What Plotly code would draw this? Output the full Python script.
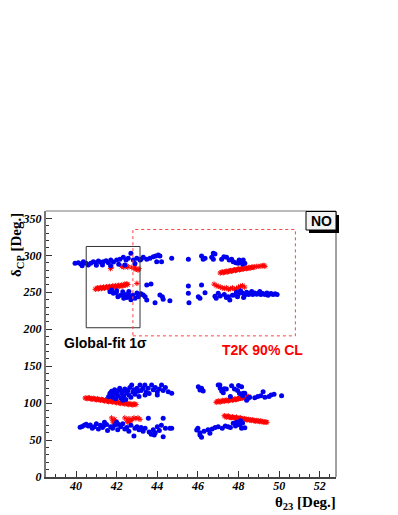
import plotly.graph_objects as go

# --- data: (theta23 [deg], deltaCP [deg]) ---

# blue dots, grouped by cluster
blue_upper_left = [
    (39.95, 289.2), (40.11, 290.0), (40.23, 288.2), (40.36, 291.3), (40.49, 289.2),
    (40.72, 289.2), (40.85, 291.3), (40.98, 290.0), (41.10, 292.2), (41.21, 290.5),
    (41.34, 291.3), (41.48, 292.7), (41.59, 290.0), (41.71, 293.6), (41.84, 290.9),
    (42.00, 293.6), (42.16, 294.6), (42.33, 297.3), (42.46, 293.6), (42.57, 296.0),
    (42.70, 302.7), (42.82, 293.6), (42.99, 296.0), (43.15, 293.6), (40.30, 286.0),
    (40.60, 287.0), (41.00, 286.5), (41.30, 287.0), (41.70, 286.0), (42.10, 288.0),
    (42.40, 287.0), (42.90, 289.0), (43.20, 294.6), (43.31, 297.3), (43.48, 294.6),
    (43.64, 296.0), (43.80, 298.1), (43.92, 299.0), (44.05, 300.4), (44.13, 299.0),
    (43.97, 291.3), (44.21, 291.3), (44.71, 296.0), (45.53, 294.6),
]
blue_upper_right = [
    (46.18, 299.0), (46.26, 294.6), (46.35, 296.0), (46.68, 297.3), (46.84, 301.8),
    (46.76, 294.6), (46.76, 302.7), (47.17, 294.6), (47.28, 298.1), (47.41, 297.3),
    (47.54, 293.6), (47.66, 294.6), (47.74, 291.3), (47.87, 290.0), (47.98, 289.2),
    (48.10, 291.3), (48.20, 288.2), (48.31, 289.2), (48.23, 293.6), (48.03, 293.6),
]
blue_mid_left = [
    (41.67, 250.8), (41.84, 248.6), (41.98, 249.5), (42.06, 244.0), (42.30, 250.8),
    (42.40, 247.0), (42.50, 243.0), (42.57, 248.0), (42.66, 244.0), (42.80, 246.0),
    (42.90, 241.8), (43.06, 244.0), (43.10, 247.0), (41.75, 253.0), (42.00, 252.0),
    (42.20, 246.0), (42.35, 242.0), (42.70, 240.0), (42.60, 251.0), (43.00, 249.0),
    (43.48, 259.8), (43.69, 261.2), (43.31, 246.3), (43.20, 248.0), (43.40, 244.0),
    (43.48, 239.5), (43.89, 235.9), (44.13, 246.3), (44.25, 244.0), (44.29, 240.5),
    (44.62, 238.6), (45.53, 258.4), (45.53, 248.6), (45.56, 235.9),
]
blue_mid_right = [
    (46.02, 244.0), (46.10, 241.8), (46.18, 259.8), (46.35, 249.4), (46.84, 244.6),
    (47.00, 248.6), (46.90, 242.0), (47.10, 245.0), (47.30, 247.0), (47.40, 243.0),
    (47.57, 239.5), (47.50, 244.0), (47.70, 246.0), (47.82, 246.3), (47.90, 250.0),
    (48.00, 248.0), (48.10, 252.0), (48.20, 249.0), (48.30, 246.0), (48.40, 250.0),
    (48.50, 247.0), (48.60, 249.0), (48.70, 247.0), (48.80, 249.0), (48.90, 247.5),
    (49.00, 249.0), (49.10, 247.0), (49.20, 248.5), (49.30, 247.0), (49.40, 249.0),
    (49.50, 247.5), (49.60, 248.5), (49.70, 247.0), (49.80, 248.0), (49.90, 247.0),
    (48.65, 251.0), (49.05, 251.0), (49.45, 246.0), (48.25, 243.0), (47.95, 244.0),
]
blue_low_upper = [
    (41.67, 111.0), (41.67, 113.3), (41.75, 116.0), (41.80, 108.0), (41.85, 112.0),
    (41.90, 118.0), (41.95, 106.0), (42.00, 114.0), (42.05, 110.0), (42.10, 117.0),
    (42.15, 120.0), (42.20, 107.0), (42.25, 113.0), (42.30, 116.0), (42.35, 110.0),
    (42.40, 119.0), (42.45, 105.0), (42.50, 114.0), (42.55, 117.0), (42.60, 111.0),
    (42.65, 121.0), (42.74, 124.5), (42.70, 108.0), (42.80, 115.0), (42.85, 118.0),
    (42.90, 112.0), (43.00, 120.0), (43.05, 116.0), (43.15, 124.5), (43.10, 109.0),
    (43.20, 117.0), (43.30, 120.0), (43.39, 124.5), (43.45, 115.0), (43.55, 120.0),
    (43.60, 113.0), (43.72, 124.5), (43.80, 118.0), (43.90, 121.0), (44.00, 115.0),
    (44.10, 119.0), (44.21, 124.5), (44.29, 117.0), (44.40, 121.0), (44.54, 115.4),
    (44.71, 113.3), (44.00, 111.0), (43.40, 111.0), (42.30, 104.0), (41.60, 108.5),
    (46.02, 122.2), (46.18, 120.0), (46.10, 117.7), (46.26, 116.4), (47.00, 124.5),
    (47.08, 124.5), (47.10, 120.0), (47.17, 116.4), (47.25, 114.0), (47.30, 119.5),
    (47.40, 119.0), (47.66, 123.5), (47.80, 119.0), (47.95, 117.0), (48.00, 124.0),
    (48.15, 122.2), (48.23, 113.3), (48.31, 113.3), (48.20, 110.0), (48.48, 106.5),
    (48.40, 104.0), (48.55, 108.0), (48.80, 107.3), (48.95, 109.0), (49.10, 110.0),
    (49.21, 115.4), (49.30, 108.0), (49.50, 109.0), (49.60, 111.0), (49.75, 112.0),
    (50.12, 110.0), (47.60, 109.0), (48.05, 113.0),
]
blue_low_lower = [
    (40.20, 67.2), (40.30, 68.5), (40.40, 70.0), (40.50, 71.5), (40.60, 69.0),
    (40.70, 70.5), (40.80, 66.0), (40.90, 68.0), (41.00, 72.0), (41.10, 65.0),
    (41.20, 70.0), (41.30, 67.0), (41.40, 74.0), (41.50, 71.0), (41.55, 63.0),
    (41.70, 68.0), (41.80, 66.0), (41.90, 70.0), (42.00, 74.0), (42.05, 64.0),
    (42.20, 68.0), (42.30, 72.0), (42.40, 65.0), (42.50, 67.0), (42.60, 62.0),
    (42.70, 70.0), (42.85, 55.5), (42.90, 66.0), (43.00, 68.0), (43.10, 64.0),
    (43.20, 67.0), (43.30, 62.0), (43.40, 66.0), (43.56, 79.4), (43.60, 61.0),
    (43.70, 58.0), (43.80, 64.0), (43.90, 60.0), (44.00, 68.0), (44.10, 63.0),
    (44.29, 79.4), (44.29, 54.5), (44.20, 70.0), (44.40, 66.0), (44.62, 65.9),
    (44.71, 65.9), (43.85, 57.0), (42.10, 71.0), (41.35, 69.0),
    (45.94, 63.6), (46.00, 66.0), (46.10, 56.8), (46.18, 53.7), (46.10, 60.0),
    (46.30, 62.0), (46.50, 64.0), (46.59, 59.1), (46.70, 65.0), (46.85, 67.0),
    (47.00, 68.1), (47.20, 66.0), (47.35, 69.0), (47.49, 68.1), (47.60, 67.0),
    (47.74, 72.7), (47.85, 69.0), (47.95, 71.0), (48.07, 70.4), (48.15, 65.9),
    (48.20, 73.0), (48.31, 66.7), (48.10, 76.0), (47.90, 74.0),
]

# red asterisks, grouped by band
red_upper_left = [
    (40.95, 254.0), (41.05, 256.0), (41.10, 254.5), (41.20, 256.5), (41.25, 255.0),
    (41.35, 257.0), (41.40, 255.5), (41.50, 257.5), (41.55, 256.0), (41.65, 258.0),
    (41.70, 256.5), (41.80, 258.5), (41.85, 257.0), (41.95, 259.0), (42.00, 257.5),
    (42.10, 259.5), (42.15, 258.0), (42.25, 260.0), (42.30, 258.5), (42.40, 261.0),
    (42.45, 259.5), (42.50, 261.5), (43.00, 262.0),
    (41.00, 255.0), (41.15, 255.5), (41.30, 256.0), (41.45, 256.5), (41.60, 257.0),
    (41.75, 257.5), (41.90, 258.0), (42.05, 258.5), (42.20, 259.0), (42.35, 259.5),
    (42.55, 260.5),
    (41.70, 282.0), (41.75, 284.0), (42.25, 285.0), (42.35, 284.0), (42.45, 286.0),
    (42.55, 284.0), (42.50, 285.5), (42.75, 284.0), (42.85, 282.0), (42.95, 281.0),
    (43.05, 280.0), (42.90, 284.0), (43.10, 282.0),
]
red_upper_right = [
    (47.10, 276.0), (47.20, 277.5), (47.30, 277.0), (47.40, 278.5), (47.50, 278.0),
    (47.60, 279.5), (47.70, 279.0), (47.80, 280.5), (47.90, 280.0), (48.00, 281.5),
    (48.10, 281.0), (48.20, 282.0), (48.30, 282.5), (48.40, 282.0), (48.50, 283.5),
    (48.60, 283.0), (48.70, 284.0), (48.80, 284.5), (49.00, 285.0), (49.20, 286.0),
    (49.30, 285.0),
    (47.15, 277.0), (47.25, 276.5), (47.35, 278.0), (47.45, 277.5), (47.55, 279.0),
    (47.65, 278.5), (47.75, 280.0), (47.85, 279.5), (47.95, 281.0), (48.05, 280.5),
    (48.15, 282.0), (48.25, 281.5), (48.35, 283.0), (48.45, 282.5), (48.55, 283.0),
    (48.65, 284.0), (48.75, 283.5), (48.90, 285.0), (49.10, 285.5), (49.25, 286.5),
    (46.80, 261.0), (46.90, 259.0), (47.00, 258.0), (47.10, 257.0), (47.20, 256.0),
    (47.30, 255.0), (47.40, 256.0), (47.50, 254.0), (47.60, 255.0), (47.70, 256.0),
    (47.80, 254.0), (47.90, 255.0), (48.00, 257.0), (48.10, 258.0), (48.20, 259.0),
    (48.30, 257.0),
]
red_lower_left = [
    (40.45, 107.0), (40.55, 106.0), (40.65, 107.5), (40.75, 105.5), (40.85, 106.5),
    (40.95, 105.0), (41.05, 106.0), (41.15, 104.5), (41.25, 105.0), (41.35, 103.5),
    (41.45, 104.5), (41.55, 102.5), (41.65, 103.5), (41.75, 102.0), (41.85, 103.0),
    (41.95, 101.0), (42.05, 102.0), (42.15, 100.0), (42.25, 101.0), (42.35, 99.5),
    (42.45, 100.5), (42.55, 98.5), (42.65, 99.5), (42.75, 98.0), (42.85, 99.0),
    (42.95, 98.0),
    (40.50, 106.5), (40.60, 107.0), (40.70, 106.0), (40.80, 105.5), (40.90, 106.0),
    (41.00, 104.5), (41.10, 105.0), (41.20, 104.0), (41.30, 104.5), (41.40, 103.0),
    (41.50, 103.5), (41.60, 102.0), (41.70, 103.0), (41.80, 101.5), (41.90, 102.0),
    (42.00, 100.5), (42.10, 101.0), (42.20, 99.5), (42.30, 100.0), (42.40, 99.0),
    (42.50, 99.5), (42.60, 98.0), (42.70, 98.5), (42.80, 97.5), (42.90, 98.5),
    (41.75, 80.0), (41.80, 76.0), (41.85, 73.0), (41.90, 78.0), (41.95, 75.0),
    (42.00, 72.0), (42.40, 80.0), (42.50, 77.0), (42.60, 79.0), (42.65, 75.0),
    (42.75, 78.0), (42.85, 80.0), (42.95, 79.0), (43.05, 80.0), (43.15, 78.0),
    (42.55, 74.0), (42.70, 76.5),
]
red_lower_right = [
    (46.90, 101.0), (47.00, 103.0), (47.10, 101.5), (47.20, 103.5), (47.30, 102.5),
    (47.40, 104.0), (47.50, 103.0), (47.60, 104.5), (47.70, 104.0), (47.80, 105.5),
    (47.90, 105.0), (48.00, 106.0), (48.10, 106.5), (48.20, 107.0), (48.30, 108.0),
    (48.40, 107.5), (48.50, 109.0),
    (46.95, 102.0), (47.05, 102.0), (47.15, 102.5), (47.25, 103.0), (47.35, 103.5),
    (47.45, 103.5), (47.55, 104.0), (47.65, 105.0), (47.75, 104.5), (47.85, 105.0),
    (47.95, 106.0), (48.05, 106.5), (48.15, 107.0), (48.25, 107.5), (48.35, 107.5),
    (48.45, 108.5),
    (47.30, 83.0), (47.40, 81.0), (47.50, 82.5), (47.60, 80.5), (47.70, 81.5),
    (47.80, 80.0), (47.90, 81.0), (48.00, 79.0), (48.10, 80.0), (48.20, 78.5),
    (48.30, 79.0), (48.40, 77.5), (48.50, 78.0), (48.60, 77.0), (48.70, 77.5),
    (48.80, 76.0), (48.90, 76.5), (49.00, 75.5), (49.10, 76.0), (49.20, 75.0),
    (49.30, 74.5), (49.40, 74.0),
    (47.35, 82.0), (47.45, 82.0), (47.55, 81.0), (47.65, 80.5), (47.75, 80.5),
    (47.85, 80.0), (47.95, 79.5), (48.05, 79.5), (48.15, 79.0), (48.25, 78.0),
    (48.35, 78.0), (48.45, 77.5), (48.55, 77.0), (48.65, 76.5), (48.75, 76.5),
    (48.85, 75.5), (48.95, 76.0), (49.05, 75.0), (49.15, 75.0), (49.25, 74.0),
    (49.35, 74.5),
]

x_ticks = [40, 42, 44, 46, 48, 50, 52]
y_ticks = [0, 50, 100, 150, 200, 250, 300, 350]

# boxes: (x0, x1, y0, y1)
global_fit_box = (40.5, 43.15, 202, 312)
t2k_box = (42.8, 50.8, 191, 335)

blue = (blue_upper_left + blue_upper_right + blue_mid_left + blue_mid_right
        + blue_low_upper + blue_low_lower)
red = red_upper_left + red_upper_right + red_lower_left + red_lower_right

# page body has an 8px margin, so the figure is 8px smaller than the window
OFF = 8
W, H = 398 - OFF, 515 - OFF
# plot area in window pixels
L, R, T, B = 46, 336, 211, 477


def px_to_paper(px, py):
    return (px - L) / (R - L), (B - py) / (B - T)


fig = go.Figure()

fig.add_trace(go.Scatter(
    x=[p[0] for p in red], y=[p[1] for p in red], mode="markers",
    marker=dict(symbol="asterisk-open", size=4.5, color="red",
                line=dict(color="red", width=1)),
    hoverinfo="skip",
))
fig.add_trace(go.Scatter(
    x=[p[0] for p in blue], y=[p[1] for p in blue], mode="markers",
    marker=dict(symbol="circle", size=5, color="#0000ee", line=dict(width=0)),
    hoverinfo="skip",
))

shapes = [
    dict(type="rect", xref="x", yref="y",
         x0=global_fit_box[0], x1=global_fit_box[1],
         y0=global_fit_box[2], y1=global_fit_box[3],
         line=dict(color="#333333", width=1)),
    dict(type="rect", xref="x", yref="y",
         x0=t2k_box[0], x1=t2k_box[1], y0=t2k_box[2], y1=t2k_box[3],
         line=dict(color="#ff4040", width=1, dash="dot")),
    # top / right frame
    dict(type="line", xref="paper", yref="paper", x0=0, x1=1, y0=1, y1=1,
         line=dict(color="#777777", width=1)),
    dict(type="line", xref="paper", yref="paper", x0=1, x1=1, y0=0, y1=1,
         line=dict(color="#444444", width=1)),
]

# "NO" box with its shadow
sx0, sy1 = px_to_paper(309, 215)
sx1, sy0 = px_to_paper(339, 233)
bx0, by1 = px_to_paper(306, 211.5)
bx1, by0 = px_to_paper(336, 230)
shapes.append(dict(type="rect", xref="paper", yref="paper", x0=sx0, x1=sx1,
                   y0=sy0, y1=sy1, line=dict(width=0), fillcolor="black"))
shapes.append(dict(type="rect", xref="paper", yref="paper", x0=bx0, x1=bx1,
                   y0=by0, y1=by1, line=dict(color="black", width=1),
                   fillcolor="#f4f4f4"))

annotations = [
    dict(x=(bx0 + bx1) / 2, y=(by0 + by1) / 2, xref="paper", yref="paper",
         xanchor="center", yanchor="middle",
         text="<b>NO</b>", showarrow=False,
         font=dict(family="Liberation Sans", size=14, color="black")),
    dict(x=41.43, y=181, xref="x", yref="y", xanchor="center", yanchor="middle",
         text="<b>Global-fit 1σ</b>", showarrow=False,
         font=dict(family="Liberation Sans", size=14, color="black")),
    dict(x=49.2, y=172, xref="x", yref="y", xanchor="center", yanchor="middle",
         text="<b>T2K 90% CL</b>", showarrow=False,
         font=dict(family="Liberation Sans", size=14, color="red")),
]
tx, ty = px_to_paper(338, 492)
annotations.append(dict(
    x=tx, y=ty, xref="paper", yref="paper", xanchor="right", yanchor="top",
    text="<b>θ<sub>23</sub> [Deg.]</b>", showarrow=False,
    font=dict(family="Liberation Serif", size=15, color="black")))
ax, ay = px_to_paper(17, 211)
annotations.append(dict(
    x=ax, y=ay, xref="paper", yref="paper", xanchor="center", yanchor="top",
    text="<b>δ<sub>CP</sub> [Deg.]</b>", textangle=-90, showarrow=False,
    font=dict(family="Liberation Serif", size=15, color="black")))

tick_font = dict(family="Liberation Serif", size=12, color="black",
                 weight="bold", style="italic")

fig.update_layout(
    width=W, height=H,
    margin=dict(l=L - OFF, r=398 - R, t=T - OFF, b=515 - B),
    paper_bgcolor="white", plot_bgcolor="white",
    showlegend=False,
    shapes=shapes,
    annotations=annotations,
    xaxis=dict(
        range=[38.52, 52.8], tickvals=x_ticks, ticktext=[str(v) for v in x_ticks],
        ticks="inside", ticklen=6, tickcolor="#333333", tickwidth=1,
        minor=dict(dtick=0.5, tick0=40, ticks="inside", ticklen=3,
                   tickcolor="#333333", showgrid=False),
        showline=True, linecolor="#444444", linewidth=2,
        showgrid=False, zeroline=False, tickfont=tick_font,
        ticklabelstandoff=-3,
    ),
    yaxis=dict(
        range=[0, 360], tickvals=y_ticks, ticktext=[str(v) for v in y_ticks],
        ticks="inside", ticklen=6, tickcolor="#333333", tickwidth=1,
        minor=dict(dtick=10, tick0=0, ticks="inside", ticklen=3,
                   tickcolor="#333333", showgrid=False),
        showline=True, linecolor="#777777", linewidth=2,
        showgrid=False, zeroline=False, tickfont=tick_font,
    ),
)

fig.write_html("out.html")
